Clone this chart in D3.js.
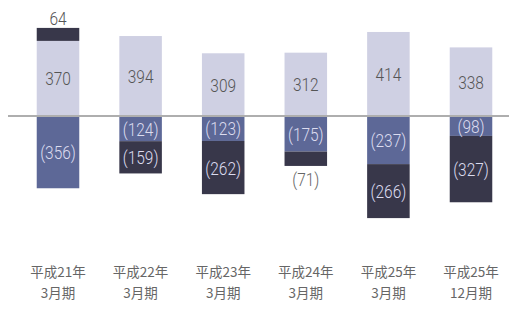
<!DOCTYPE html>
<html><head><meta charset="utf-8">
<script src="https://cdn.jsdelivr.net/npm/d3@7"></script>
<style>body{margin:0;background:#fff}svg{display:block}</style>
</head><body>
<script>
const categories = ["平成21年\n3月期","平成22年\n3月期","平成23年\n3月期","平成24年\n3月期","平成25年\n3月期","平成25年\n12月期"];
const posLight = [370,394,309,312,414,338];
const posDark  = [64,0,0,0,0,0];
const negBlue  = [-356,-124,-123,-175,-237,-98];
const negDark  = [0,-159,-262,-71,-266,-327];

const W=509,H=314;
const svg=d3.select("body").append("svg").attr("width",W).attr("height",H);
const x=d3.scaleBand().domain(categories).range([16.7,512.3]).paddingInner(0.485).paddingOuter(0.2425);
const y=d3.scaleLinear().domain([571.5,-571.5]).range([0,232]);
const C={light:"#cfd0e3",blue:"#5d6897",dark:"#38374a"};
const font="Roboto, 'Liberation Sans', sans-serif";

const segs=[];
categories.forEach((c,i)=>{
  segs.push({c,v0:0,v1:posLight[i],col:C.light,val:posLight[i],lab:"in",tc:"#555"});
  if(posDark[i]) segs.push({c,v0:posLight[i],v1:posLight[i]+posDark[i],col:C.dark,val:posDark[i],lab:"above",tc:"#555"});
  segs.push({c,v0:0,v1:negBlue[i],col:C.blue,val:negBlue[i],lab:"in",tc:"#dcdcef"});
  if(negDark[i]) segs.push({c,v0:negBlue[i],v1:negBlue[i]+negDark[i],col:C.dark,val:negDark[i],
     lab:(Math.abs(negDark[i])<100?"below":"in"),tc:(Math.abs(negDark[i])<100?"#666":"#dcdcef")});
});
svg.selectAll("rect").data(segs).join("rect")
  .attr("x",d=>x(d.c)).attr("width",x.bandwidth())
  .attr("y",d=>y(Math.max(d.v0,d.v1))).attr("height",d=>Math.abs(y(d.v0)-y(d.v1)))
  .attr("fill",d=>d.col);

svg.append("line").attr("x1",8).attr("x2",W).attr("y1",y(0)).attr("y2",y(0))
  .attr("stroke","#aeaeae").attr("stroke-width",2);

const fmt=v=>v<0?"("+(-v)+")":String(v);
svg.selectAll("text.val").data(segs).join("text").attr("class","val")
  .attr("transform",d=>{
    const cx=x(d.c)+x.bandwidth()/2;
    let cy;
    if(d.lab==="above") cy=y(Math.max(d.v0,d.v1))-3;
    else if(d.lab==="below") cy=y(Math.min(d.v0,d.v1))+20;
    else cy=(y(d.v0)+y(d.v1))/2+7;
    return `translate(${cx},${cy}) scale(0.86,1)`;})
  .attr("text-anchor","middle").attr("font-family",font).attr("font-weight",300)
  .attr("font-size",18).attr("fill",d=>d.tc).text(d=>fmt(d.val));

const g=svg.selectAll("text.cat").data(categories).join("text").attr("class","cat")
  .attr("x",d=>x(d)+x.bandwidth()/2).attr("text-anchor","middle")
  .attr("font-family","'Noto Sans CJK JP', sans-serif").attr("font-size",13.5).attr("fill","#666");
g.selectAll("tspan").data(d=>d.split("\n")).join("tspan")
  .attr("x",function(){return this.parentNode.getAttribute("x");})
  .attr("y",(d,i)=>277+i*21).text(d=>d);
</script>
</body></html>
